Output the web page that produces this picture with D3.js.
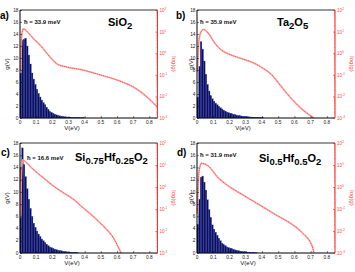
<!DOCTYPE html>
<html lang="en">
<head>
<meta charset="utf-8">
<title>g(V) histograms</title>
<style>
  body { margin: 0; background: #fff; font-family: "Liberation Sans", Arial, sans-serif; }
  svg { display: block; }
</style>
</head>
<body>
<div id="container"></div>
<script src="https://cdnjs.cloudflare.com/ajax/libs/d3/7.8.5/d3.min.js"></script>
<script>
// ---- data ----
var panelTags = ["a)", "b)", "c)", "d)"];
var hbarLabels = ["ħ = 33.9 meV", "ħ = 35.9 meV", "ħ = 16.6 meV", "ħ = 31.9 meV"];
var binWidth = 0.01;

// histogram heights g(V), one per 0.01 eV bin starting at V = 0
var gA = [7.5, 13.0, 13.1, 13.3, 12.0, 10.5, 9.0, 7.5, 6.5, 5.6, 4.8, 4.1, 3.5, 3.0, 2.55, 2.2, 1.8, 1.45, 1.1, 0.95,
          0.8, 0.65, 0.52, 0.43, 0.36, 0.3, 0.26, 0.22, 0.19, 0.16, 0.14, 0.12, 0.1, 0.09, 0.08, 0.07, 0.06, 0.05, 0.05, 0.04];
var gB = [3.5, 8.6, 12.7, 11.5, 9.5, 7.3, 5.6, 4.5, 3.7, 3.2, 2.8, 2.5, 2.2, 1.95, 1.7, 1.5, 1.3, 1.15, 1.0, 0.9,
          0.8, 0.7, 0.62, 0.55, 0.48, 0.42, 0.37, 0.33, 0.29, 0.26, 0.23, 0.2, 0.18, 0.16, 0.14, 0.12, 0.1, 0.09, 0.08, 0.07, 0.06];
var gC = [14.0, 17.2, 14.5, 12.5, 10.5, 8.8, 7.3, 6.0, 4.9, 4.2, 3.6, 3.1, 2.7, 2.3, 2.0, 1.7, 1.45, 1.2, 1.0, 0.88,
          0.77, 0.65, 0.55, 0.48, 0.42, 0.36, 0.3, 0.26, 0.22, 0.18, 0.15, 0.12, 0.1, 0.08, 0.07, 0.06];
var gD = [4.7, 8.8, 12.4, 12.6, 11.6, 10.3, 8.7, 7.1, 5.8, 4.6, 3.9, 3.4, 2.9, 2.4, 2.0, 1.6, 1.35, 1.2, 1.0, 0.9,
          0.8, 0.7, 0.6, 0.5, 0.45, 0.38, 0.33, 0.28, 0.24, 0.2, 0.17, 0.14, 0.12, 0.1, 0.08, 0.07, 0.06];

// red curves: V (eV) and log10(g)
var redVA = [0.003, 0.012, 0.02, 0.03, 0.05, 0.08, 0.124, 0.186, 0.23, 0.29, 0.39, 0.495, 0.6, 0.7, 0.786, 0.85];
var redLA = [-0.8, 0.9, 1.12, 1.1, 0.95, 0.7, 0.38, -0.18, -0.5, -0.64, -0.78, -1.0, -1.24, -1.56, -2.03, -2.5];
var redVB = [0.003, 0.012, 0.025, 0.039, 0.07, 0.11, 0.15, 0.21, 0.27, 0.33, 0.39, 0.46, 0.52, 0.58, 0.64, 0.72];
var redLB = [-0.85, 0.6, 1.0, 1.1, 0.92, 0.46, 0.15, -0.08, -0.24, -0.39, -0.62, -1.0, -1.55, -2.09, -2.55, -3.0];
var redVC = [0.003, 0.01, 0.017, 0.041, 0.082, 0.144, 0.206, 0.268, 0.33, 0.39, 0.45, 0.515, 0.577, 0.625];
var redLC = [-1.4, 0.9, 1.23, 1.1, 0.8, 0.42, 0.05, -0.26, -0.56, -0.94, -1.32, -1.77, -2.3, -3.0];
var redVD = [0.002, 0.012, 0.029, 0.07, 0.13, 0.193, 0.276, 0.38, 0.48, 0.586, 0.648, 0.71, 0.72];
var redLD = [-1.2, 0.7, 1.08, 0.95, 0.42, 0.05, -0.33, -0.79, -1.24, -1.7, -2.08, -2.7, -3.0];

var gTicks = [0, 2, 4, 6, 8, 10, 12, 14, 16, 18];
var vTicks = [0, 0.1, 0.2, 0.3, 0.4, 0.5, 0.6, 0.7, 0.8];
var logExps = [2, 1, 0, -1, -2, -3];

// formula labels as [text, isSubscript] pieces
var formulas = [
  [["SiO", 0], ["2", 1]],
  [["Ta", 0], ["2", 1], ["O", 0], ["5", 1]],
  [["Si", 0], ["0.75", 1], ["Hf", 0], ["0.25", 1], ["O", 0], ["2", 1]],
  [["Si", 0], ["0.5", 1], ["Hf", 0], ["0.5", 1], ["O", 0], ["2", 1]]
];

// ---- layout ----
var W = 355, H = 272;
var boxes = [
  {x0: 20, x1: 157.4, y0: 10, y1: 118, gx: 7, tagX: 0, tagY: 19, fx: 108, fy: 26, hx: 24, hy: 24, lx: 72},
  {x0: 197, x1: 335, y0: 10, y1: 118, gx: 191, tagX: 176, tagY: 19, fx: 277, fy: 26, hx: 200, hy: 24, lx: 243},
  {x0: 20, x1: 157.4, y0: 143, y1: 253, gx: 7, tagX: 1, tagY: 156, fx: 75, fy: 161, hx: 27, hy: 160, lx: 72},
  {x0: 197, x1: 335, y0: 143, y1: 253, gx: 191, tagX: 177, tagY: 156, fx: 259, fy: 162, hx: 200, hy: 157, lx: 248}
];
var hists = [gA, gB, gC, gD];
var redV = [redVA, redVB, redVC, redVD];
var redL = [redLA, redLB, redLC, redLD];

var red = "#ff1a1a";

var svg = d3.select("#container").append("svg")
  .attr("width", W).attr("height", H);

boxes.forEach(function(b, p) {
  var g = svg.append("g");
  var x = d3.scaleLinear().domain([0, 0.85]).range([b.x0, b.x1]);
  var y = d3.scaleLinear().domain([0, 18]).range([b.y1, b.y0]);
  var yr = d3.scaleLog().domain([1e-3, 1e2]).range([b.y1, b.y0]);

  // histogram bars
  g.selectAll("rect.bar")
    .data(hists[p])
    .enter().append("rect")
    .attr("class", "bar")
    .attr("x", function(d, i) { return x(i * binWidth); })
    .attr("width", x(binWidth) - x(0))
    .attr("y", function(d) { return y(d); })
    .attr("height", function(d) { return y(0) - y(d); })
    .attr("fill", "#0d0d5e")
    .attr("stroke", "#2f46a8")
    .attr("stroke-width", 0.3);

  // red log curve
  var pts = redV[p].map(function(v, i) { return [v, Math.pow(10, redL[p][i])]; });
  var line = d3.line()
    .x(function(d) { return x(d[0]); })
    .y(function(d) { return yr(d[1]); })
    .curve(d3.curveMonotoneX);
  g.append("path").datum(pts).attr("d", line)
    .attr("fill", "none").attr("stroke", "#ffb8b8").attr("stroke-width", 1.8);
  g.append("path").datum(pts).attr("d", line)
    .attr("fill", "none").attr("stroke", "#ff3030").attr("stroke-width", 0.8)
    .attr("stroke-dasharray", "1.2,0.8");

  // left axis (black, inward ticks)
  var ya = d3.axisRight(y).tickValues(gTicks).tickSize(2).tickFormat("");
  g.append("g").attr("transform", "translate(" + b.x0 + ",0)").call(ya)
    .call(function(s) { s.select(".domain").remove(); s.selectAll("line").attr("stroke", "#000").attr("stroke-width", 0.5); });
  g.selectAll("text.gt").data(gTicks).enter().append("text")
    .attr("class", "gt")
    .attr("x", b.x0 - 1.5).attr("y", function(d) { return y(d) + 1.7; })
    .attr("text-anchor", "end").attr("font-size", 4.8).attr("fill", "#222")
    .text(function(d) { return d; });

  // bottom axis
  var xa = d3.axisTop(x).tickValues(vTicks).tickSize(2).tickFormat("");
  g.append("g").attr("transform", "translate(0," + b.y1 + ")").call(xa)
    .call(function(s) { s.select(".domain").remove(); s.selectAll("line").attr("stroke", "#000").attr("stroke-width", 0.5); });
  g.selectAll("text.vt").data(vTicks).enter().append("text")
    .attr("class", "vt")
    .attr("x", function(d) { return x(d); }).attr("y", b.y1 + 6)
    .attr("text-anchor", "middle").attr("font-size", 4.8).attr("fill", "#222")
    .text(function(d) { return d === 0 ? "0" : d3.format(".1f")(d); });

  // frame: left, bottom, top black; right red
  g.append("line").attr("x1", b.x0).attr("x2", b.x0).attr("y1", b.y0).attr("y2", b.y1)
    .attr("stroke", "#000").attr("stroke-width", 1);
  g.append("line").attr("x1", b.x0).attr("x2", b.x1).attr("y1", b.y1).attr("y2", b.y1)
    .attr("stroke", "#000").attr("stroke-width", 1);
  g.append("line").attr("x1", b.x0).attr("x2", b.x1).attr("y1", b.y0).attr("y2", b.y0)
    .attr("stroke", "#000").attr("stroke-width", 0.8);

  // right log axis (red)
  var major = logExps.map(function(e) { return Math.pow(10, e); });
  var minor = [];
  major.forEach(function(m) { if (m < 100) for (var k = 2; k < 10; k++) minor.push(m * k); });
  var ra = d3.axisLeft(yr).tickValues(major).tickSize(2).tickFormat("");
  g.append("g").attr("transform", "translate(" + b.x1 + ",0)").call(ra)
    .call(function(s) { s.select(".domain").remove(); s.selectAll("line").attr("stroke", red).attr("stroke-width", 0.6); });
  var rm = d3.axisLeft(yr).tickValues(minor).tickSize(1).tickFormat("");
  g.append("g").attr("transform", "translate(" + b.x1 + ",0)").call(rm)
    .call(function(s) { s.select(".domain").remove(); s.selectAll("line").attr("stroke", red).attr("stroke-width", 0.4); });
  g.append("line").attr("x1", b.x1).attr("x2", b.x1).attr("y1", b.y0).attr("y2", b.y1)
    .attr("stroke", red).attr("stroke-width", 1);
  var rt = g.selectAll("text.rt").data(logExps).enter().append("text")
    .attr("class", "rt")
    .attr("x", b.x1 + 2).attr("y", function(d) { return yr(Math.pow(10, d)) + 2; })
    .attr("font-size", 4.6).attr("fill", "#ff4a4a");
  rt.append("tspan").text("10");
  rt.append("tspan").attr("dy", -2).attr("font-size", 3.2).text(function(d) { return d; });

  // axis titles
  g.append("text").attr("transform", "translate(" + (b.gx + 2) + "," + ((b.y0 + b.y1) / 2) + ") rotate(-90)")
    .attr("text-anchor", "middle").attr("font-size", 6).attr("fill", "#111").text("g(V)");
  g.append("text").attr("transform", "translate(" + (b.x1 + 15) + "," + ((b.y0 + b.y1) / 2) + ") rotate(90)")
    .attr("text-anchor", "middle").attr("font-size", 6).attr("fill", "#ff4a4a").text("log(g)");
  g.append("text").attr("x", b.lx).attr("y", b.y1 + 11.5)
    .attr("text-anchor", "middle").attr("font-size", 6).attr("fill", "#111").text("V(eV)");

  // panel tag, hbar annotation, formula
  g.append("text").attr("x", b.tagX).attr("y", b.tagY)
    .attr("font-size", 10).attr("font-weight", "bold").text(panelTags[p]);
  g.append("text").attr("x", b.hx).attr("y", b.hy)
    .attr("font-size", 6).attr("font-weight", "bold").attr("fill", "#111").text(hbarLabels[p]);
  var ft = g.append("text").attr("x", b.fx).attr("y", b.fy)
    .attr("font-size", 11).attr("font-weight", "bold").attr("fill", "#000");
  var prevSub = 0;
  formulas[p].forEach(function(part) {
    var t = ft.append("tspan").text(part[0]);
    if (part[1]) { t.attr("font-size", 9.5).attr("dy", 2.8); prevSub = 1; }
    else if (prevSub) { t.attr("dy", -2.8); prevSub = 0; }
  });
});
</script>
</body>
</html>
